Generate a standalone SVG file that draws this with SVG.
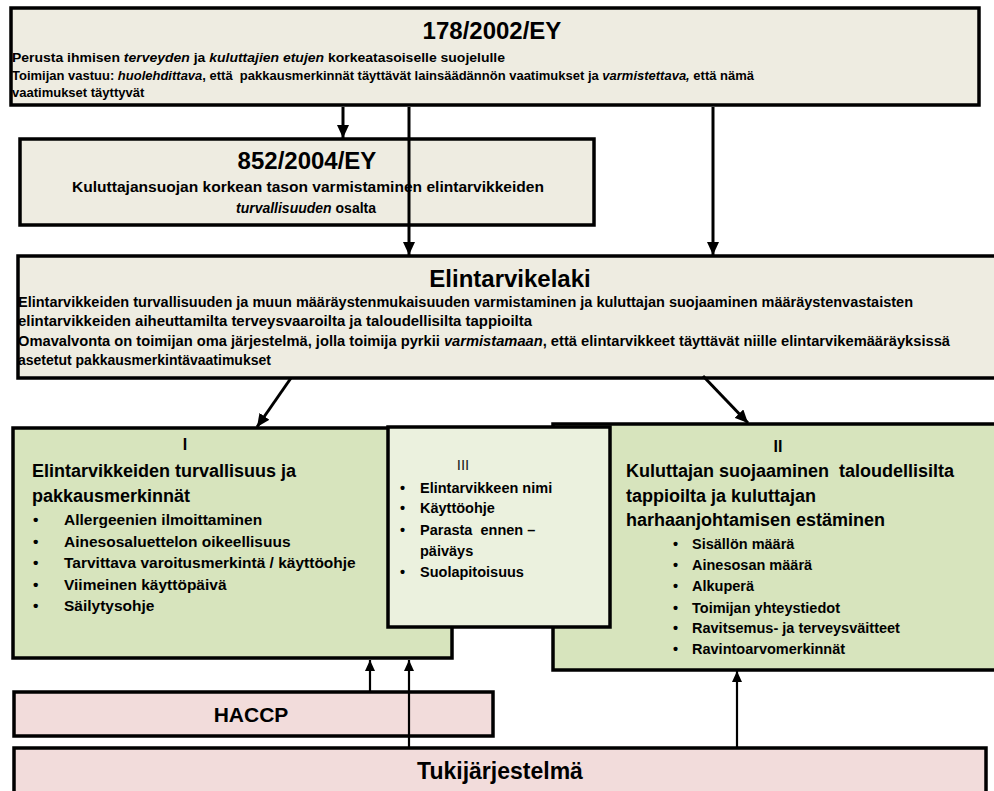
<svg xmlns="http://www.w3.org/2000/svg" width="994" height="791" viewBox="0 0 994 791">
<style>
text{font-family:"Liberation Sans",Arial,sans-serif;font-weight:bold;fill:#000}
.box{stroke:#000;stroke-width:3.5}
.beige{fill:#eeece1}
.green{fill:#d7e4bd}
.lgreen{fill:#ebf1de}
.pink{fill:#f2dcdb}
.title{font-size:24px;text-anchor:middle}
.t13{font-size:13px}
.t14{font-size:14px}
.hdr{font-size:18px}
.bl{font-size:15.5px}
.bl2{font-size:14.5px}
.conn{stroke:#000;fill:none}
.thick{stroke-width:3}
.thin{stroke-width:2.2}
</style>
<defs>
<marker id="ah" markerUnits="userSpaceOnUse" markerWidth="14" markerHeight="12" refX="13" refY="6" orient="auto">
<path d="M0,0 L13,6 L0,12 z" fill="#000"/>
</marker>
<marker id="ah2" markerUnits="userSpaceOnUse" markerWidth="12" markerHeight="10" refX="11" refY="5" orient="auto">
<path d="M0,0 L11,5 L0,10 z" fill="#000"/>
</marker>
</defs>

<g id="n178">
<rect class="box beige" x="11" y="8" width="968" height="97"/>
<text class="title" x="492" y="39">178/2002/EY</text>
<text class="t13" x="12" y="62" textLength="493" lengthAdjust="spacingAndGlyphs">Perusta ihmisen <tspan font-style="italic">terveyden</tspan> ja <tspan font-style="italic">kuluttajien etujen</tspan> korkeatasoiselle suojelulle</text>
<text class="t13" x="12" y="80" textLength="742" lengthAdjust="spacingAndGlyphs" xml:space="preserve">Toimijan vastuu: <tspan font-style="italic">huolehdittava</tspan>, että  pakkausmerkinnät täyttävät lainsäädännön vaatimukset ja <tspan font-style="italic">varmistettava,</tspan> että nämä</text>
<text class="t13" x="12" y="97">vaatimukset täyttyvät</text>
</g>

<g id="n852">
<rect class="box beige" x="20" y="139" width="574" height="86"/>
<text class="title" x="307" y="169">852/2004/EY</text>
<text class="t14" x="308" y="192" text-anchor="middle" textLength="472" lengthAdjust="spacingAndGlyphs">Kuluttajansuojan korkean tason varmistaminen elintarvikkeiden</text>
<text class="t14" x="306" y="213" text-anchor="middle"><tspan font-style="italic">turvallisuuden</tspan> osalta</text>
</g>

<g id="nlaki">
<rect class="box beige" x="18" y="256" width="990" height="122"/>
<text class="title" x="510" y="287" font-size="23">Elintarvikelaki</text>
<text class="t14" x="18" y="307" textLength="895" lengthAdjust="spacingAndGlyphs">Elintarvikkeiden turvallisuuden ja muun määräystenmukaisuuden varmistaminen ja kuluttajan suojaaminen määräystenvastaisten</text>
<text class="t14" x="18" y="326" textLength="514" lengthAdjust="spacingAndGlyphs">elintarvikkeiden aiheuttamilta terveysvaaroilta ja taloudellisilta tappioilta</text>
<text class="t14" x="18" y="346" textLength="932" lengthAdjust="spacingAndGlyphs">Omavalvonta on toimijan oma järjestelmä, jolla toimija pyrkii <tspan font-style="italic">varmistamaan</tspan>, että elintarvikkeet täyttävät niille elintarvikemääräyksissä</text>
<text class="t14" x="18" y="365">asetetut pakkausmerkintävaatimukset</text>
</g>

<g id="nI">
<rect class="box green" x="13" y="428" width="439" height="230"/>
<text x="185" y="450" font-size="16" text-anchor="middle">I</text>
<text class="hdr" x="32" y="477">Elintarvikkeiden turvallisuus ja</text>
<text class="hdr" x="32" y="502">pakkausmerkinnät</text>
<g class="bl">
<text x="33" y="525">•</text><text x="64" y="525">Allergeenien ilmoittaminen</text>
<text x="33" y="547">•</text><text x="64" y="547">Ainesosaluettelon oikeellisuus</text>
<text x="33" y="568">•</text><text x="64" y="568">Tarvittava varoitusmerkintä / käyttöohje</text>
<text x="33" y="590">•</text><text x="64" y="590">Viimeinen käyttöpäivä</text>
<text x="33" y="611">•</text><text x="64" y="611">Säilytysohje</text>
</g>
</g>

<g id="nII">
<rect class="box green" x="553" y="424" width="460" height="246"/>
<text x="778" y="452" font-size="16" text-anchor="middle">II</text>
<text class="hdr" x="626" y="477" xml:space="preserve">Kuluttajan suojaaminen  taloudellisilta</text>
<text class="hdr" x="626" y="502">tappioilta ja kuluttajan</text>
<text class="hdr" x="626" y="526">harhaanjohtamisen estäminen</text>
<g class="bl2">
<text x="673" y="549">•</text><text x="692" y="549">Sisällön määrä</text>
<text x="673" y="570">•</text><text x="692" y="570">Ainesosan määrä</text>
<text x="673" y="591">•</text><text x="692" y="591">Alkuperä</text>
<text x="673" y="613">•</text><text x="692" y="613">Toimijan yhteystiedot</text>
<text x="673" y="633">•</text><text x="692" y="633">Ravitsemus- ja terveysväitteet</text>
<text x="673" y="654">•</text><text x="692" y="654">Ravintoarvomerkinnät</text>
</g>
</g>

<g id="nIII">
<rect class="box lgreen" x="388" y="427" width="222" height="200"/>
<text x="463" y="470" font-size="15" style="font-weight:normal;fill:#1a1a1a" text-anchor="middle">III</text>
<g class="bl2">
<text x="400" y="493">•</text><text x="420" y="493">Elintarvikkeen nimi</text>
<text x="400" y="513">•</text><text x="420" y="513">Käyttöohje</text>
<text x="400" y="535">•</text><text x="420" y="535" xml:space="preserve">Parasta  ennen –</text>
<text x="420" y="556">päiväys</text>
<text x="400" y="577">•</text><text x="420" y="577">Suolapitoisuus</text>
</g>
</g>

<g id="nhaccp">
<rect class="box pink" x="14" y="692" width="479" height="44"/>
<text x="251" y="722" font-size="21" text-anchor="middle">HACCP</text>
</g>

<g id="ntuki">
<rect class="box pink" x="14" y="748" width="972" height="50"/>
<text x="500" y="779" font-size="23" text-anchor="middle">Tukijärjestelmä</text>
</g>

<g id="connectors">
<line class="conn thick" x1="343" y1="107" x2="343" y2="138" marker-end="url(#ah)"/>
<line class="conn thick" x1="409" y1="107" x2="409" y2="255" marker-end="url(#ah)"/>
<line class="conn thick" x1="713" y1="107" x2="713" y2="255" marker-end="url(#ah)"/>
<line class="conn thick" x1="291" y1="378" x2="257" y2="427" marker-end="url(#ah)"/>
<line class="conn thick" x1="703" y1="376" x2="748" y2="423" marker-end="url(#ah)"/>
<line class="conn thin" x1="370" y1="692" x2="370" y2="660" marker-end="url(#ah2)"/>
<line class="conn thin" x1="409" y1="748" x2="409" y2="660" marker-end="url(#ah2)"/>
<line class="conn thin" x1="737" y1="748" x2="737" y2="671" marker-end="url(#ah2)"/>
</g>
</svg>
